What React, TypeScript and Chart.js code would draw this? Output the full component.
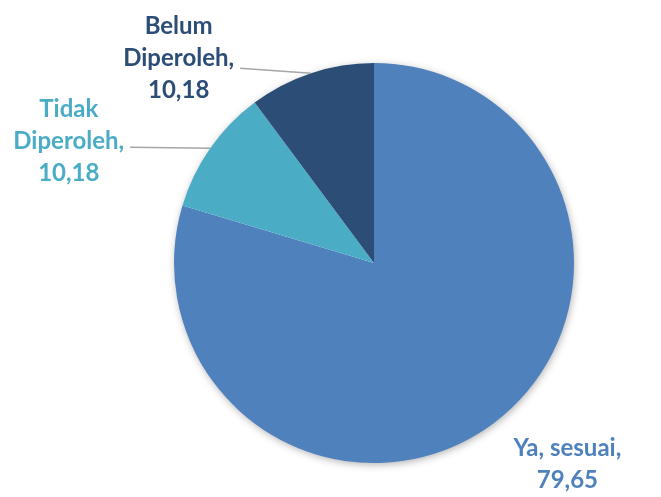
import React, { useEffect, useRef } from "react";
import { Chart, registerables } from "chart.js";

Chart.register(...registerables);

const categories = ["Ya, sesuai", "Tidak Diperoleh", "Belum Diperoleh"];
const values = [79.65, 10.18, 10.18];
const colors = ["#4F81BD", "#4BACC6", "#2C4D75"];
const labelLines = [["Ya, sesuai,", "79,65"], ["Tidak", "Diperoleh,", "10,18"], ["Belum", "Diperoleh,", "10,18"]];

const FONT = "bold 24px Lato, 'Open Sans', sans-serif";

const shadowPlugin = {
  id: "pieShadow",
  beforeDatasetsDraw(chart: any) {
    const meta = chart.getDatasetMeta(0);
    const arc = meta.data[0];
    if (!arc) return;
    const ctx = chart.ctx;
    ctx.save();
    ctx.shadowColor = "rgba(0,0,0,0.35)";
    ctx.shadowBlur = 8;
    ctx.shadowOffsetX = 1;
    ctx.shadowOffsetY = 2;
    ctx.fillStyle = "#ffffff";
    ctx.beginPath();
    ctx.arc(arc.x, arc.y, arc.outerRadius - 1, 0, Math.PI * 2);
    ctx.fill();
    ctx.restore();
  },
};

const labelPlugin = {
  id: "pieLabels",
  afterDatasetsDraw(chart: any) {
    const ctx = chart.ctx;
    const meta = chart.getDatasetMeta(0);
    ctx.save();
    ctx.font = FONT;
    ctx.textAlign = "center";
    ctx.textBaseline = "middle";
    const lineH = 32;
    meta.data.forEach((arc: any, i: number) => {
      const mid = (arc.startAngle + arc.endAngle) / 2;
      const ex = arc.x + Math.cos(mid) * arc.outerRadius;
      const ey = arc.y + Math.sin(mid) * arc.outerRadius;
      const lines = labelLines[i];
      const w = Math.max(...lines.map((l) => ctx.measureText(l).width));
      let cx: number, cy: number;
      if (i === 0) {
        cx = ex + 74;
        cy = ey + 41;
      } else {
        const lead = i === 1 ? 80 : 71;
        const lx = ex - lead;
        const ly = ey - (i === 2 ? 5 : 1);
        ctx.strokeStyle = "#A6A6A6";
        ctx.lineWidth = 1.5;
        ctx.beginPath();
        ctx.moveTo(ex, ey);
        ctx.lineTo(lx, ly);
        ctx.stroke();
        cx = lx - 6 - w / 2;
        cy = ly - (i === 1 ? 6 : 10);
      }
      ctx.fillStyle = colors[i];
      const n = lines.length;
      lines.forEach((t, k) => {
        ctx.fillText(t, cx, cy + (k - (n - 1) / 2) * lineH);
      });
    });
    ctx.restore();
  },
};

export default function App() {
  const ref = useRef<HTMLCanvasElement | null>(null);
  useEffect(() => {
    if (!ref.current) return;
    const chart = new Chart(ref.current, {
      type: "pie",
      data: {
        labels: categories,
        datasets: [
          {
            data: values,
            backgroundColor: colors,
            borderWidth: 0,
          },
        ],
      },
      options: {
        animation: false,
        responsive: false,
        layout: { padding: { left: 174, right: 87, top: 63, bottom: 34 } },
        plugins: { legend: { display: false }, tooltip: { enabled: false } },
      },
      plugins: [shadowPlugin, labelPlugin],
    });
    return () => chart.destroy();
  }, []);
  return (
    <div style={{ position: "fixed", left: 0, top: 0, width: 661, height: 497, background: "#fff" }}>
      <canvas ref={ref} width={661} height={497} style={{ width: 661, height: 497 }} />
    </div>
  );
}
